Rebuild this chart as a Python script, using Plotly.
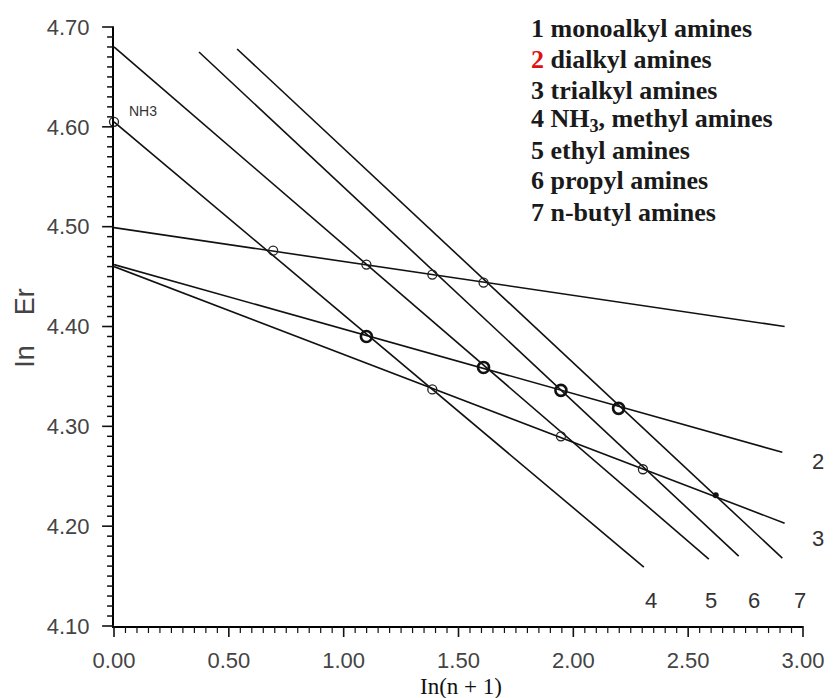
import plotly.graph_objects as go

# ---- data ----
line_ids = ["1", "2", "3", "4", "5", "6", "7"]
line_x0 = [0.0, 0.0, 0.0, 0.0, 0.0, 0.37, 0.536]
line_y0 = [4.499, 4.462, 4.460, 4.605, 4.680, 4.675, 4.678]
line_x1 = [2.92, 2.91, 2.92, 2.307, 2.59, 2.72, 2.91]
line_y1 = [4.400, 4.274, 4.203, 4.159, 4.167, 4.170, 4.168]

mono_x = [0.693, 1.099, 1.386, 1.609]
mono_y = [4.476, 4.462, 4.452, 4.444]
tri_x = [1.386, 1.946, 2.303]
tri_y = [4.337, 4.290, 4.257]
nh3_x = [0.0]
nh3_y = [4.605]
di_x = [1.099, 1.609, 1.946, 2.197]
di_y = [4.390, 4.359, 4.336, 4.318]
dot_x = [2.62]
dot_y = [4.231]

end_labels = ["2", "3", "4", "5", "6", "7"]
end_label_x = [3.065, 3.065, 2.34, 2.60, 2.785, 2.985]
end_label_y = [4.265, 4.188, 4.126, 4.126, 4.126, 4.126]

legend_lines = [
    "1 monoalkyl amines",
    "<span style='color:#e01010'>2</span> dialkyl amines",
    "3 trialkyl amines",
    "4 NH<sub>3</sub>, methyl amines",
    "5 ethyl amines",
    "6 propyl amines",
    "7 n-butyl amines",
]

X_RANGE = [0.0, 3.0]
Y_RANGE = [4.10, 4.70]
X_MAJOR, X_MINOR_PER_MAJOR = 0.5, 10
Y_MAJOR, Y_MINOR_PER_MAJOR = 0.1, 10

W, H = 836, 698
ML, MR, MT, MB = 114, 27, 27, 72
PW, PH = W - ML - MR, H - MT - MB

def px_x(p):
    return (p - ML) / PW

def px_y(p):
    return (H - MB - p) / PH

def data_to_paper_x(v):
    return (v - X_RANGE[0]) / (X_RANGE[1] - X_RANGE[0])

def data_to_paper_y(v):
    return (v - Y_RANGE[0]) / (Y_RANGE[1] - Y_RANGE[0])

fig = go.Figure()

for i, lid in enumerate(line_ids):
    fig.add_trace(go.Scatter(
        x=[line_x0[i], line_x1[i]], y=[line_y0[i], line_y1[i]],
        mode="lines", line=dict(color="#111111", width=1.6),
        showlegend=False, hoverinfo="skip", cliponaxis=False))

thin_marker = dict(symbol="circle-open", size=9, color="#222222",
                   line=dict(width=1.3, color="#222222"))
for xs, ys in [(mono_x, mono_y), (tri_x, tri_y), (nh3_x, nh3_y)]:
    fig.add_trace(go.Scatter(x=xs, y=ys, mode="markers", marker=thin_marker,
                             showlegend=False, cliponaxis=False))

fig.add_trace(go.Scatter(
    x=di_x, y=di_y, mode="markers",
    marker=dict(symbol="circle-open", size=11, color="#111111",
                line=dict(width=2.6, color="#111111")),
    showlegend=False, cliponaxis=False))

fig.add_trace(go.Scatter(
    x=dot_x, y=dot_y, mode="markers",
    marker=dict(symbol="circle", size=6, color="#111111"),
    showlegend=False, cliponaxis=False))

annotations = []
for t, lx, ly in zip(end_labels, end_label_x, end_label_y):
    annotations.append(dict(x=data_to_paper_x(lx), y=data_to_paper_y(ly),
                            xref="paper", yref="paper", text=t, showarrow=False,
                            xanchor="center", yanchor="middle",
                            font=dict(family="Liberation Sans", size=22, color="#333333")))
annotations.append(dict(x=0.055, y=4.616, xref="x", yref="y", text="NH3",
                        showarrow=False, xanchor="left", yanchor="middle",
                        font=dict(family="Liberation Sans", size=14, color="#333333")))
leg_y_px = [29, 59, 90, 120, 151, 181, 212]
for txt, yp in zip(legend_lines, leg_y_px):
    annotations.append(dict(x=px_x(533), y=px_y(yp), xref="paper", yref="paper",
                            text="<b>" + txt + "</b>", showarrow=False,
                            xanchor="left", yanchor="middle",
                            font=dict(family="Liberation Serif", size=26, color="#1a1a1a")))
annotations.append(dict(x=px_x(24), y=px_y(328), xref="paper", yref="paper",
                        text="In&nbsp;&nbsp;&nbsp;&nbsp;Er", textangle=-90, showarrow=False,
                        xanchor="center", yanchor="middle",
                        font=dict(family="Liberation Sans", size=27, color="#444444")))
annotations.append(dict(x=px_x(464), y=px_y(686), xref="paper", yref="paper",
                        text="In(n + 1)", showarrow=False,
                        xanchor="center", yanchor="middle",
                        font=dict(family="Liberation Serif", size=23, color="#111111")))

# tick marks (major + minor) built from the axis ranges, drawn as paper-space shapes
shapes = []
n_x = int(round((X_RANGE[1] - X_RANGE[0]) / X_MAJOR * X_MINOR_PER_MAJOR))
for k in range(n_x + 1):
    v = X_RANGE[0] + k * X_MAJOR / X_MINOR_PER_MAJOR
    major = (k % X_MINOR_PER_MAJOR == 0)
    ln = 11 if major else 7
    xp = data_to_paper_x(v)
    shapes.append(dict(type="line", xref="paper", yref="paper", x0=xp, x1=xp,
                       y0=0, y1=-ln / PH, layer="above",
                       line=dict(color="#111111", width=1.6 if major else 1.2)))
n_y = int(round((Y_RANGE[1] - Y_RANGE[0]) / Y_MAJOR * Y_MINOR_PER_MAJOR))
for k in range(n_y + 1):
    v = Y_RANGE[0] + k * Y_MAJOR / Y_MINOR_PER_MAJOR
    major = (k % Y_MINOR_PER_MAJOR == 0)
    ln = 12 if major else 7
    yp = data_to_paper_y(v)
    shapes.append(dict(type="line", xref="paper", yref="paper", x0=0, x1=-ln / PW,
                       y0=yp, y1=yp, layer="above",
                       line=dict(color="#111111", width=1.6 if major else 1.5)))

tickfont = dict(family="Liberation Sans", size=22, color="#444444")

fig.update_xaxes(range=X_RANGE, tickmode="linear", tick0=X_RANGE[0], dtick=X_MAJOR,
                 tickformat=".2f", showgrid=False, zeroline=False,
                 showline=True, linecolor="black", linewidth=2,
                 ticks="", ticklabelstandoff=14, tickfont=tickfont)
fig.update_yaxes(range=Y_RANGE, tickmode="linear", tick0=Y_RANGE[0], dtick=Y_MAJOR,
                 tickformat=".2f", showgrid=False, zeroline=False,
                 showline=True, linecolor="black", linewidth=2,
                 ticks="", ticklabelstandoff=18, tickfont=tickfont)

fig.update_layout(
    width=W, height=H,
    margin=dict(l=ML, r=MR, t=MT, b=MB),
    paper_bgcolor="white", plot_bgcolor="white",
    annotations=annotations,
    shapes=shapes,
)

fig.write_html("out.html")
